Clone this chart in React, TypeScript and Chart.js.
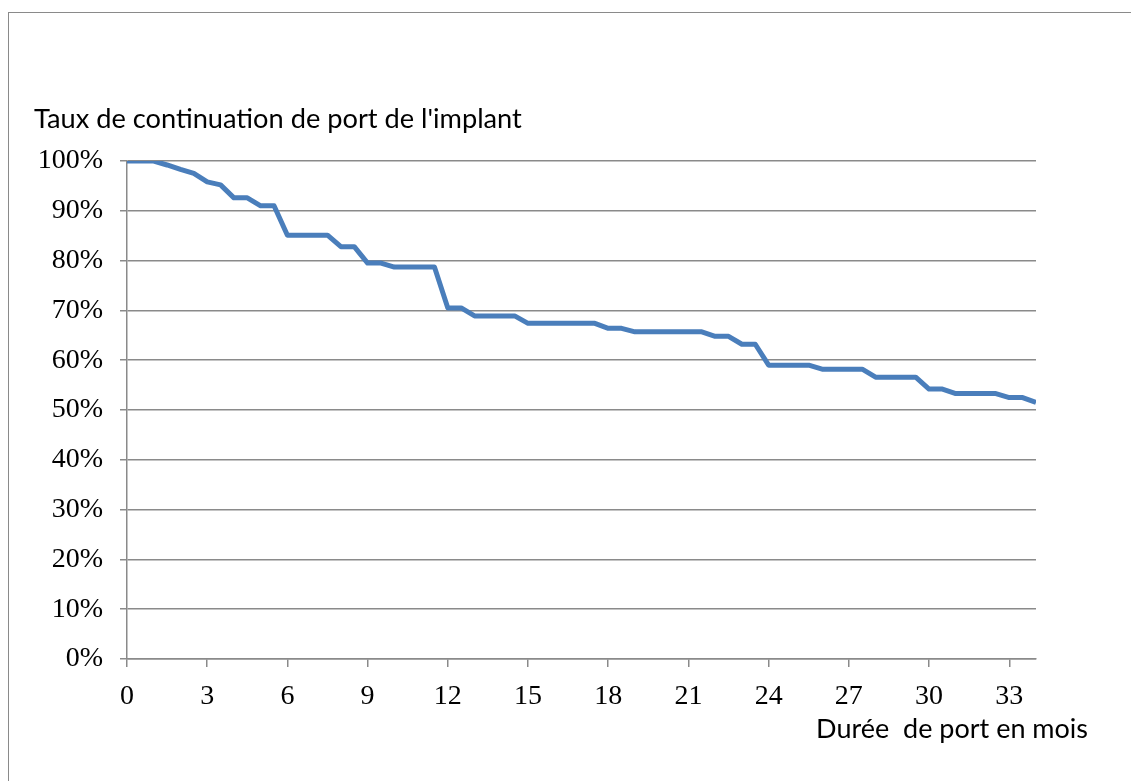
import React, { useEffect, useRef } from "react";
import { Chart, registerables } from "chart.js";

Chart.register(...registerables);

const months: number[] = [
  0, 0.5, 1, 1.5, 2, 2.5, 3, 3.5, 4, 4.5, 5, 5.5, 6, 6.5, 7, 7.5, 8, 8.5, 9, 9.5,
  10, 10.5, 11, 11.5, 12, 12.5, 13, 13.5, 14, 14.5, 15, 15.5, 16, 16.5, 17, 17.5,
  18, 18.5, 19, 19.5, 20, 20.5, 21, 21.5, 22, 22.5, 23, 23.5, 24, 24.5, 25, 25.5,
  26, 26.5, 27, 27.5, 28, 28.5, 29, 29.5, 30, 30.5, 31, 31.5, 32, 32.5, 33, 33.5, 34,
];

const continuationRate: number[] = [
  100, 100, 100, 99.2, 98.3, 97.5, 95.8, 95.2, 92.6, 92.6, 91.0, 91.0, 85.1, 85.1,
  85.1, 85.1, 82.8, 82.8, 79.5, 79.5, 78.7, 78.7, 78.7, 78.7, 70.5, 70.5, 68.9,
  68.9, 68.9, 68.9, 67.4, 67.4, 67.4, 67.4, 67.4, 67.4, 66.4, 66.4, 65.7, 65.7,
  65.7, 65.7, 65.7, 65.7, 64.8, 64.8, 63.2, 63.2, 59.0, 59.0, 59.0, 59.0, 58.2,
  58.2, 58.2, 58.2, 56.6, 56.6, 56.6, 56.6, 54.2, 54.2, 53.3, 53.3, 53.3, 53.3,
  52.5, 52.5, 51.5,
];

const xTickValues: number[] = [0, 3, 6, 9, 12, 15, 18, 21, 24, 27, 30, 33];

const yAxisTitle = "Taux de continuation de port de l'implant";
const xAxisTitle = "Durée  de port en mois";

const GRID = "#8a8a8a";
const LINE = "#4a7ebb";
const TICK_FONT = { family: "Liberation Serif", size: 28 };

export default function App() {
  const ref = useRef<HTMLCanvasElement | null>(null);

  useEffect(() => {
    if (!ref.current) return;

    const titles = {
      id: "titles",
      afterDraw(chart: any) {
        const ctx = chart.ctx;
        const area = chart.chartArea;
        ctx.save();
        ctx.fillStyle = "#000";
        ctx.textBaseline = "middle";
        const fit = (text: string, target: number) => {
          ctx.font = "20px Lato";
          const w = ctx.measureText(text).width;
          const size = (20 * target) / w;
          ctx.font = `${size.toFixed(2)}px Lato`;
        };
        fit(yAxisTitle, 488);
        ctx.textAlign = "left";
        ctx.fillText(yAxisTitle, area.left - 93, area.top - 42);
        fit(xAxisTitle, 272);
        ctx.textAlign = "right";
        ctx.fillText(xAxisTitle, area.right + 52, area.bottom + 70);
        ctx.restore();
      },
    };

    const chart = new Chart(ref.current, {
      type: "line",
      data: {
        datasets: [
          {
            data: months.map((m, i) => ({ x: m, y: continuationRate[i] })),
            borderColor: LINE,
            borderWidth: 5,
            pointRadius: 0,
            tension: 0,
            fill: false,
            borderJoinStyle: "round",
          },
        ],
      },
      options: {
        animation: false,
        responsive: false,
        maintainAspectRatio: false,
        layout: { padding: { top: 161, right: 95, left: 0, bottom: 72 } },
        plugins: { legend: { display: false }, tooltip: { enabled: false } },
        scales: {
          x: {
            type: "linear",
            min: 0,
            max: 34,
            afterBuildTicks: (scale: any) => {
              scale.ticks = xTickValues.map((v) => ({ value: v }));
            },
            afterFit: (scale: any) => {
              scale.height = 50;
            },
            ticks: {
              color: "#000",
              font: TICK_FONT,
              padding: 13,
              maxRotation: 0,
              autoSkip: false,
            },
            grid: {
              drawOnChartArea: false,
              drawTicks: true,
              tickLength: 8,
              color: GRID,
              lineWidth: 1.5,
            },
            border: { display: true, color: GRID, width: 1.5 },
          },
          y: {
            min: 0,
            max: 100,
            afterFit: (scale: any) => {
              scale.width = 127;
            },
            ticks: {
              stepSize: 10,
              color: "#000",
              font: TICK_FONT,
              padding: 17,
              callback: (v: any) => `${v}%`,
            },
            grid: {
              drawTicks: true,
              tickLength: 7,
              color: GRID,
              lineWidth: 1.5,
            },
            border: { display: true, color: GRID, width: 1.5 },
          },
        },
      },
      plugins: [titles],
    } as any);

    return () => chart.destroy();
  }, []);

  return (
    <div
      style={{
        position: "fixed",
        left: 0,
        top: 0,
        width: 1131,
        height: 781,
        overflow: "hidden",
        background: "#fff",
      }}
    >
      <div
        style={{
          position: "absolute",
          left: 8,
          top: 12,
          width: 1140,
          height: 800,
          border: "1.5px solid #8a8a8a",
          boxSizing: "border-box",
        }}
      />
      <canvas
        ref={ref}
        width={1131}
        height={781}
        style={{ position: "absolute", left: 0, top: 0, width: 1131, height: 781 }}
      />
    </div>
  );
}
